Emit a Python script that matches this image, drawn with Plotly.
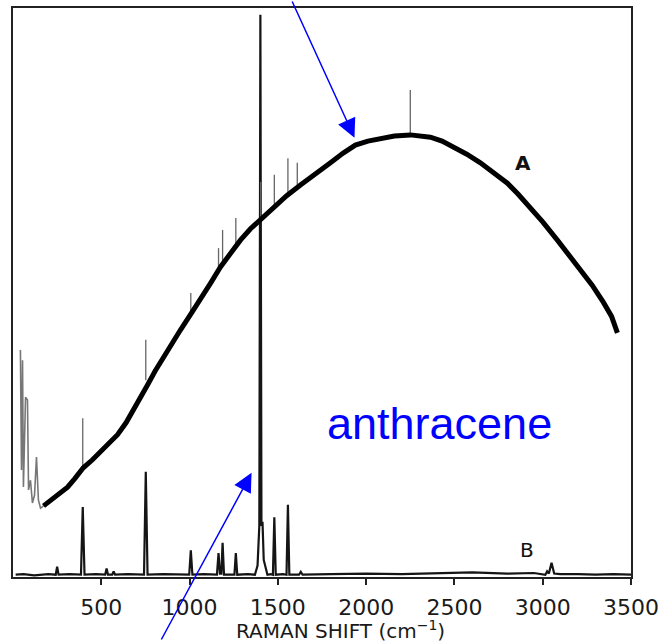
import plotly.graph_objects as go

# ---------------- data ----------------
# Curve A, low-shift region (Rayleigh wing with lattice modes)
a_low_shift = [42, 48, 54, 59, 71, 82, 88, 99, 110, 122, 133, 144, 156, 173]
a_low_int = [39.9, 18.8, 38.1, 15.8, 31.6, 31.1, 15.3, 17.0, 13.0, 14.4, 21.1, 13.5, 12.1, 12.5]

# Curve A: anthracene Raman spectrum on strong fluorescence background (envelope)
a_shift = [173, 212, 260, 309, 350, 398, 450, 495, 540, 592, 640, 682, 720, 761, 805, 852,
           900, 948, 1005, 1062, 1120, 1175, 1230, 1288, 1345, 1400, 1440, 1486, 1550, 1628,
           1710, 1798, 1870, 1939, 2010, 2081, 2160, 2251, 2310, 2364, 2430, 2494, 2570,
           2647, 2720, 2800, 2860, 2930, 3000, 3083, 3150, 3213, 3280, 3343, 3390, 3423]
a_int = [12.5, 13.5, 14.6, 15.8, 17.3, 19.2, 20.6, 22.0, 23.4, 25.0, 27.1, 29.3, 31.4, 33.7,
         36.2, 38.7, 41.0, 43.4, 46.1, 48.7, 51.7, 54.5, 56.9, 59.2, 61.2, 62.8, 64.0, 65.4,
         67.0, 68.9, 70.9, 72.8, 74.5, 75.9, 76.6, 77.1, 77.5, 77.7, 77.6, 77.3, 76.6, 75.6,
         74.3, 72.8, 71.1, 69.2, 67.3, 65.0, 62.4, 59.2, 56.6, 54.0, 51.3, 48.3, 45.8, 42.9]

# Raman lines sticking out of curve A (position, background level, top)
a_peak_pos = [395, 752, 1007, 1164, 1187, 1262, 1403, 1480, 1557, 1610, 2250]
a_peak_base = [19.2, 34.6, 46.5, 53.6, 55.4, 58.7, 62.8, 65.4, 67.5, 68.9, 77.7]
a_peak_top = [27.9, 41.7, 49.9, 57.8, 61.0, 63.1, 69.4, 70.7, 73.6, 72.8, 85.6]

# Curve B: Raman spectrum with fluorescence removed
b_shift = [15, 60, 120, 200, 242, 250, 258, 320, 385, 395, 405, 470, 522, 530, 538,
           562, 570, 578, 650, 742, 752, 762, 850, 940, 998, 1007, 1016, 1080,
           1155, 1164, 1172, 1180, 1187, 1195, 1240, 1254, 1262, 1270, 1330, 1370,
           1385, 1395, 1401, 1407, 1413, 1420, 1441, 1460, 1472, 1480, 1488, 1530,
           1549, 1557, 1565, 1620, 1630, 1640, 1800, 2000, 2200, 2400, 2600, 2800,
           2950, 3015, 3025, 3035, 3050, 3065, 3100, 3200, 3300, 3400, 3500]
b_int = [0.4, 0.5, 0.3, 0.5, 0.4, 1.8, 0.4, 0.5, 0.4, 12.3, 0.4, 0.5, 0.4, 1.5, 0.4,
         0.4, 1.0, 0.4, 0.5, 0.4, 18.5, 0.4, 0.5, 0.4, 0.4, 4.7, 0.4, 0.5,
         0.4, 4.2, 0.6, 0.6, 6.0, 0.4, 0.5, 0.4, 4.2, 0.4, 0.5, 0.4,
         2.0, 9.0, 98.8, 9.0, 9.7, 3.0, 0.4, 0.5, 0.4, 10.5, 0.4, 0.5,
         0.4, 12.7, 0.4, 0.4, 0.9, 0.4, 0.5, 0.6, 0.5, 0.6, 0.8, 0.6,
         0.7, 0.4, 1.0, 0.6, 2.5, 0.6, 0.5, 0.5, 0.4, 0.5, 0.4]

tick_vals = [500, 1000, 1500, 2000, 2500, 3000, 3500]
tick_text = ["500", "1000", "1500", "2000", "2500", "3000", "3500"]

# ---------------- figure ----------------
spk_x, spk_y = [], []
for p, b, t in zip(a_peak_pos, a_peak_base, a_peak_top):
    spk_x += [p, p, None]
    spk_y += [b, t, None]

fig = go.Figure()
fig.add_trace(go.Scatter(x=b_shift, y=b_int, mode="lines",
                         line=dict(color="#151515", width=2.2), showlegend=False))
fig.add_trace(go.Scatter(x=spk_x, y=spk_y, mode="lines",
                         line=dict(color="#666666", width=1.3), showlegend=False))
fig.add_trace(go.Scatter(x=a_low_shift, y=a_low_int, mode="lines",
                         line=dict(color="#777777", width=1.6), showlegend=False))
fig.add_trace(go.Scatter(x=a_shift, y=a_int, mode="lines",
                         line=dict(color="#000000", width=5),
                         showlegend=False))

blue = "#0000ff"
annotations = [
    dict(x=2888, y=72.8, xref="x", yref="y", text="<b>A</b>", showarrow=False,
         xanchor="center", yanchor="middle",
         font=dict(family="DejaVu Sans", size=20, color="#111111")),
    dict(x=2911, y=4.7, xref="x", yref="y", text="B", showarrow=False,
         xanchor="center", yanchor="middle",
         font=dict(family="DejaVu Sans", size=20, color="#111111")),
    dict(x=(340 - 13) / 618, y=(577 - 630) / 569, xref="paper", yref="paper",
         text="RAMAN SHIFT (cm<sup>−1</sup>)", showarrow=False,
         xanchor="center", yanchor="middle",
         font=dict(family="DejaVu Sans", size=20, color="#1a1a1a")),
    dict(x=(440 - 13) / 618, y=(577 - 423) / 569, xref="paper", yref="paper",
         text="anthracene", showarrow=False, xanchor="center", yanchor="middle",
         font=dict(family="Liberation Sans", size=45, color=blue)),
    # arrows
    dict(x=1934, y=77.2, xref="x", yref="y", text="", showarrow=True,
         ax=-63, ay=-143, arrowcolor=blue, arrowwidth=1.5, arrowhead=2, arrowsize=2.5),
    dict(x=1351, y=18.3, xref="x", yref="y", text="", showarrow=True,
         ax=-91, ay=172, arrowcolor=blue, arrowwidth=1.5, arrowhead=2, arrowsize=2.5),
]

fig.update_layout(
    width=660, height=641,
    margin=dict(l=13, r=29, t=8, b=64, autoexpand=False),
    paper_bgcolor="white", plot_bgcolor="white",
    annotations=annotations,
    xaxis=dict(range=[0, 3500], tickvals=tick_vals, ticktext=tick_text,
               ticks="outside", ticklen=6, tickwidth=1.5, tickcolor="#222222",
               showline=True, linecolor="#222222", linewidth=2, mirror=True,
               showgrid=False, zeroline=False, ticklabelstandoff=4, automargin=False,
               tickfont=dict(family="DejaVu Sans", size=22, color="#1a1a1a")),
    yaxis=dict(range=[0, 100], showticklabels=False, ticks="", automargin=False,
               showline=True, linecolor="#222222", linewidth=2, mirror=True,
               showgrid=False, zeroline=False),
)

fig.write_html("out.html", config={"displayModeBar": False},
               post_script="document.body.style.margin='0px';")
